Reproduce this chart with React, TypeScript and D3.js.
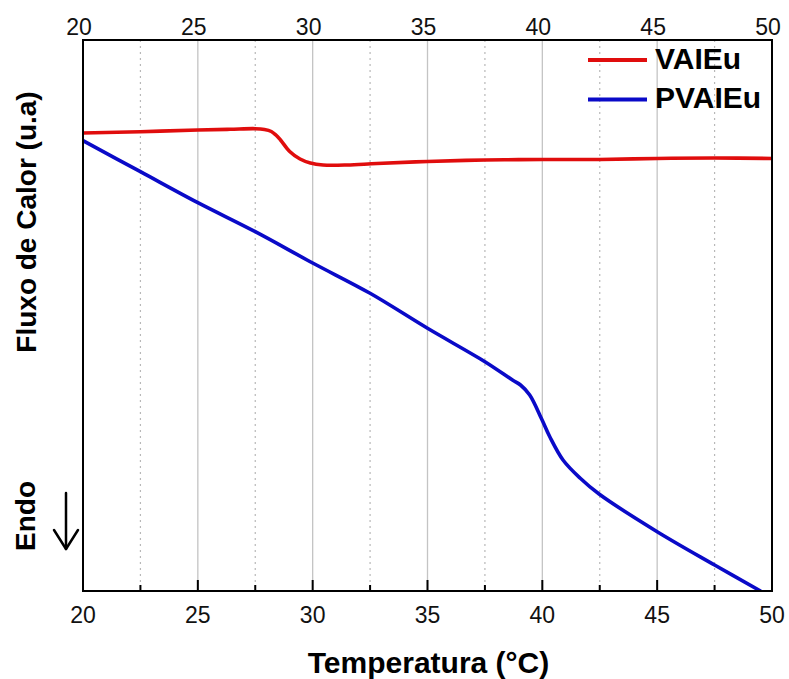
import React from "react";
import * as d3 from "d3";

// Temperature (°C) and heat-flow (arbitrary units) readings for each sample
const vaTemp = [20, 22.5, 25, 26.4, 27.5, 27.9, 28.2, 28.4, 28.6, 29.0, 29.45, 29.9, 30.45, 31.5, 32.8, 35, 37.5, 40, 42.5, 45, 47.5, 50];
const vaFlow = [45.8, 45.93, 46.1, 46.17, 46.23, 46.15, 45.95, 45.6, 45.1, 43.95, 43.2, 42.8, 42.6, 42.6, 42.75, 42.95, 43.1, 43.15, 43.15, 43.25, 43.3, 43.25];

const pvaTemp = [20, 22.5, 25, 27.5, 30, 32.5, 35, 37.5, 38.7, 39.05, 39.45, 39.97, 40.33, 40.9, 41.64, 42.47, 45, 47.5, 49.5];
const pvaFlow = [45.03, 41.93, 38.83, 35.93, 32.8, 29.77, 26.27, 22.93, 21.1, 20.6, 19.6, 17.2, 15.4, 13.1, 11.3, 9.7, 5.93, 2.6, 0];

const majorTicks = [20, 25, 30, 35, 40, 45, 50];
const minorTicks = [22.5, 27.5, 32.5, 37.5, 42.5, 47.5];

const seriesNames = ["VAIEu", "PVAIEu"];
const seriesColors = ["#e00d0d", "#0a0ac8"];

const W = 789;
const H = 679;
const left = 83;
const right = 772;
const top = 40;
const bottom = 591;
const font = "'Liberation Sans', Arial, Helvetica, sans-serif";

export default function App() {
  const x = d3.scaleLinear().domain([20, 50]).range([left, right]);
  const y = d3.scaleLinear().domain([0, 55.1]).range([bottom, top]);

  const line = d3
    .line<[number, number]>()
    .x((d) => x(d[0]))
    .y((d) => y(d[1]))
    .curve(d3.curveCatmullRom.alpha(0.5));

  const vaPath = line(vaTemp.map((t, i) => [t, vaFlow[i]]) as [number, number][]) || "";
  const pvaPath = line(pvaTemp.map((t, i) => [t, pvaFlow[i]]) as [number, number][]) || "";

  return (
    <svg
      width={W}
      height={H}
      viewBox={`0 0 ${W} ${H}`}
      style={{ position: "absolute", left: 0, top: 0, background: "#fff" }}
      fontFamily={font}
    >
      <defs>
        <clipPath id="plot">
          <rect x={left} y={top} width={right - left} height={bottom - top} />
        </clipPath>
      </defs>

      {/* grid */}
      {majorTicks.slice(1, -1).map((t) => (
        <line key={"g" + t} x1={x(t)} x2={x(t)} y1={top} y2={bottom} stroke="#c4c4c4" strokeWidth={1.3} />
      ))}
      {minorTicks.map((t) => (
        <line key={"m" + t} x1={x(t)} x2={x(t)} y1={top} y2={bottom} stroke="#b8b8b8" strokeWidth={1.2} strokeDasharray="2,4" />
      ))}

      {/* curves */}
      <g clipPath="url(#plot)" fill="none" strokeLinejoin="round" strokeLinecap="round">
        <path d={vaPath} stroke={seriesColors[0]} strokeWidth={3.6} />
        <path d={pvaPath} stroke={seriesColors[1]} strokeWidth={3.6} />
      </g>

      {/* frame */}
      <rect x={left} y={top} width={right - left} height={bottom - top} fill="none" stroke="#000" strokeWidth={2} />

      {/* bottom ticks (inward) */}
      {majorTicks.map((t) => (
        <line key={"bt" + t} x1={x(t)} x2={x(t)} y1={bottom} y2={bottom - 11} stroke="#000" strokeWidth={2} />
      ))}
      {minorTicks.map((t) => (
        <line key={"bm" + t} x1={x(t)} x2={x(t)} y1={bottom} y2={bottom - 6} stroke="#000" strokeWidth={2} />
      ))}

      {/* tick labels */}
      {majorTicks.map((t) => (
        <text key={"tl" + t} x={x(t) - 4} y={35} fontSize={23} textAnchor="middle" fill="#111">
          {t}
        </text>
      ))}
      {majorTicks.map((t) => (
        <text key={"bl" + t} x={x(t)} y={623} fontSize={23} textAnchor="middle" fill="#111">
          {t}
        </text>
      ))}

      {/* axis titles */}
      <text x={(left + right) / 2 + 1} y={673} fontSize={30} fontWeight="bold" textAnchor="middle" fill="#000">
        Temperatura (°C)
      </text>
      <text
        transform="translate(26,222) rotate(-90)"
        dy="0.36em"
        fontSize={28}
        fontWeight="bold"
        textAnchor="middle"
        fill="#000"
      >
        Fluxo de Calor (u.a)
      </text>
      <text
        transform="translate(25,516) rotate(-90)"
        dy="0.36em"
        fontSize={28}
        fontWeight="bold"
        textAnchor="middle"
        fill="#000"
      >
        Endo
      </text>
      <g stroke="#000" strokeWidth={2.5} fill="none" strokeLinecap="round" strokeLinejoin="round">
        <line x1={66} x2={66} y1={493} y2={549} />
        <polyline points="54,530 66,549 78,530" />
      </g>

      {/* legend */}
      {seriesNames.map((name, i) => (
        <g key={name}>
          <line x1={588} x2={647} y1={60 + i * 39.5} y2={60 + i * 39.5} stroke={seriesColors[i]} strokeWidth={4} />
          <text x={655} y={68.5 + i * 39.5} fontSize={30} fontWeight="bold" fill="#000">
            {name}
          </text>
        </g>
      ))}
    </svg>
  );
}
